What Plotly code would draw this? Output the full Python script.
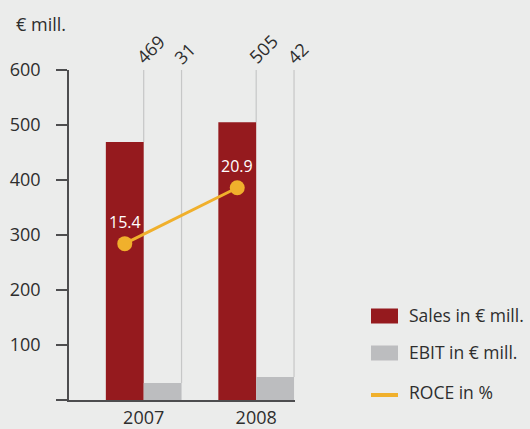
import plotly.graph_objects as go

years = ["2007", "2008"]
sales = [469, 505]
ebit = [31, 42]
roce = [15.4, 20.9]
roce_labels = ["15.4", "20.9"]

legend_items = ["Sales in € mill.", "EBIT in € mill.", "ROCE in %"]

SALES_COLOR = "#951a1e"
EBIT_COLOR = "#bcbdbf"
ROCE_COLOR = "#f0b02c"
GUIDE_COLOR = "#c6c7c7"
AXIS_COLOR = "#4d4d4f"
TEXT_COLOR = "#2e2e2e"
BG = "#ebeceb"
FONT = "Open Sans"

W, H = 530, 429
L, R, T, B = 69, 235, 70, 29
BARGAP = 0.327
XRANGE = [-0.664, 1.345]


def px(x, y):
    """pixel position -> paper coords"""
    pw = W - L - R
    ph = H - T - B
    return (x - L) / pw, (H - B - y) / ph


pos = list(range(len(years)))
bw = (1 - BARGAP) / 2
sales_x = [i - bw / 2 for i in pos]  # centre of the sales bar in each group

fig = go.Figure()
fig.add_trace(go.Bar(x=pos, y=sales, name=legend_items[0],
                     marker=dict(color=SALES_COLOR, line=dict(width=0))))
fig.add_trace(go.Bar(x=pos, y=ebit, name=legend_items[1],
                     marker=dict(color=EBIT_COLOR, line=dict(width=0))))
fig.add_trace(go.Scatter(
    x=sales_x, y=roce, yaxis="y2", name=legend_items[2],
    mode="lines+markers",
    line=dict(color=ROCE_COLOR, width=3),
    marker=dict(color=ROCE_COLOR, size=15),
    cliponaxis=False,
))

shapes = []
annotations = []

# ROCE value labels above the markers
for xc, v, lab in zip(sales_x, roce, roce_labels):
    annotations.append(dict(x=xc, y=v, xref="x", yref="y2", text=lab,
                            showarrow=False, yshift=22,
                            font=dict(size=16, color="white", family=FONT)))

# thin guide lines from bar tops up to the value labels
for i in pos:
    for j, v in enumerate([sales[i], ebit[i]]):
        xr = i - (1 - BARGAP) / 2 + (j + 1) * bw
        shapes.append(dict(type="line", xref="x", yref="y", x0=xr, x1=xr,
                           y0=v, y1=600, layer="below",
                           line=dict(color=GUIDE_COLOR, width=1.2)))
        half = len(str(v)) * 10.3 / 2 * 0.707
        annotations.append(dict(
            x=xr, y=600, xref="x", yref="y", text=str(v), showarrow=False,
            textangle=-45, xanchor="center", yanchor="middle",
            xshift=-4 + half, yshift=10 + half,
            font=dict(size=18, color=TEXT_COLOR, family=FONT)))

# unit label
ux, uy = px(14, 24)
annotations.append(dict(x=ux, y=uy, xref="paper", yref="paper", text="€ mill.",
                        showarrow=False, xanchor="left", yanchor="middle",
                        font=dict(size=18, color=TEXT_COLOR, family=FONT)))

# legend drawn by hand to match the swatch shapes
rows = [(316, SALES_COLOR, "rect"), (353, EBIT_COLOR, "rect"), (393, ROCE_COLOR, "line")]
for (cy, col, kind), label in zip(rows, legend_items):
    x0, y0 = px(371, cy - 7.5)
    x1, y1 = px(398, cy + 7.5)
    if kind == "rect":
        shapes.append(dict(type="rect", xref="paper", yref="paper",
                           x0=x0, x1=x1, y0=y0, y1=y1,
                           fillcolor=col, line=dict(width=0)))
    else:
        ym = px(0, cy + 2)[1]
        shapes.append(dict(type="line", xref="paper", yref="paper",
                           x0=x0, x1=x1, y0=ym, y1=ym,
                           line=dict(color=col, width=4)))
    tx, ty = px(407, cy - 1)
    annotations.append(dict(x=tx, y=ty, xref="paper", yref="paper", text=label,
                            showarrow=False, xanchor="left", yanchor="middle",
                            font=dict(size=17.5, color=TEXT_COLOR, family=FONT)))

fig.update_layout(
    width=W, height=H,
    margin=dict(l=L, r=R, t=T, b=B, autoexpand=False),
    paper_bgcolor=BG, plot_bgcolor=BG,
    barmode="group", bargap=BARGAP, bargroupgap=0,
    showlegend=False,
    font=dict(family=FONT, size=18, color=TEXT_COLOR),
    xaxis=dict(range=XRANGE, showgrid=False, zeroline=False, automargin=False,
               showline=True, linecolor=AXIS_COLOR, linewidth=1.5,
               tickvals=pos, ticktext=years, ticks="",
               ticklabelstandoff=1, tickfont=dict(size=18)),
    yaxis=dict(range=[0, 600], showgrid=False, zeroline=False, automargin=False,
               showline=True, linecolor=AXIS_COLOR, linewidth=1.5,
               ticks="outside", ticklen=11, tickwidth=1.5, tickcolor=AXIS_COLOR,
               tickvals=[0, 100, 200, 300, 400, 500, 600],
               ticktext=["", "100", "200", "300", "400", "500", "600"],
               ticklabelstandoff=12, tickfont=dict(size=18)),
    yaxis2=dict(range=[0, 32.5], overlaying="y", side="right", visible=False),
    shapes=shapes,
    annotations=annotations,
)

fig.write_html("out.html", config={"displayModeBar": False},
               post_script="document.body.style.margin='0';")
